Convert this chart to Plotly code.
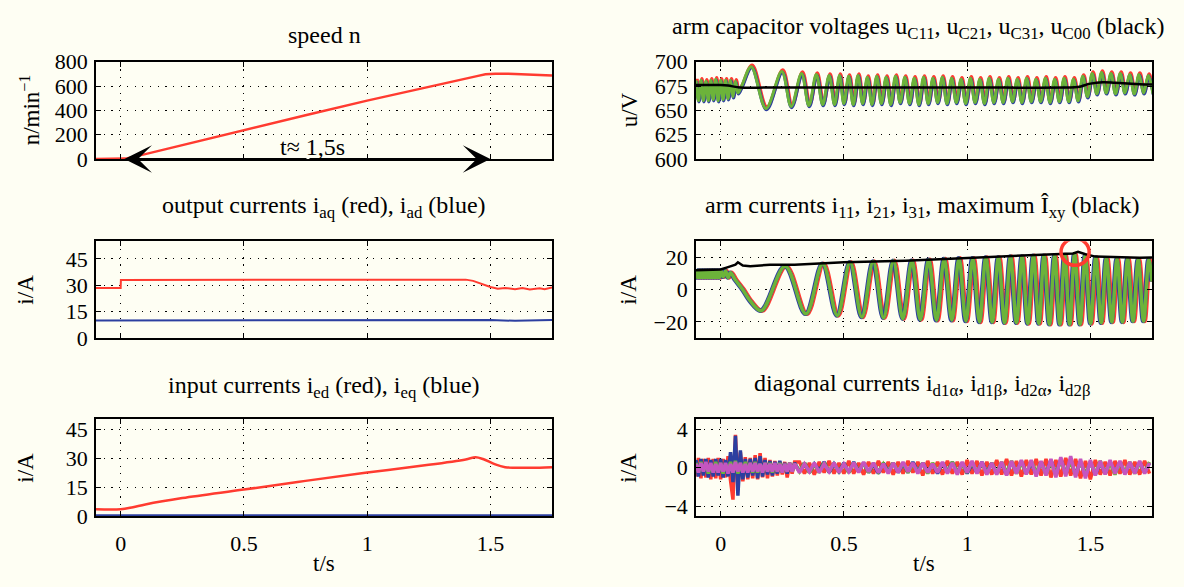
import numpy as np
import plotly.graph_objects as go

BG = "#fefef3"
RED = "#ff3b30"
BLUE = "#2c3fa0"
GREEN = "#6cb33a"
MAG = "#c455c0"
FONT = "Liberation Serif"

# ---------------- data ----------------
speed_t = [-0.1, 0.0, 0.02, 0.1, 0.25, 0.5, 0.75, 1.0, 1.25, 1.4, 1.45, 1.48, 1.52, 1.6, 1.7, 1.75]
speed_n = [0, 0, 3, 40, 115, 240, 360, 480, 590, 660, 684, 698, 702, 700, 693, 688]

iaq_t = [-0.1, 0.0, 0.001, 0.5, 1.0, 1.40, 1.43, 1.47, 1.50, 1.53, 1.56, 1.60, 1.63, 1.66, 1.70, 1.72, 1.75]
iaq = [28.5, 28.5, 33, 33, 33, 33.2, 32.5, 30.5, 29, 28, 28.5, 27.8, 28.4, 27.6, 28.3, 27.8, 28.8]
iad_t = [-0.1, 0.5, 1.0, 1.3, 1.4, 1.5, 1.6, 1.7, 1.75]
iad = [10, 10, 10.1, 10.3, 10, 10.2, 9.8, 10.3, 10.2]

ied_t = [-0.1, 0.0, 0.05, 0.1, 0.25, 0.5, 0.75, 1.0, 1.25, 1.40, 1.44, 1.47, 1.52, 1.56, 1.6, 1.7, 1.75]
ied = [3.5, 3.5, 4.6, 6, 9.3, 13.7, 18.2, 22.5, 26.5, 29.3, 30.4, 29.5, 26.7, 25.3, 25, 25, 25.2]
ieq_t = [-0.1, 1.75]
ieq = [0.3, 0.3]

# arm capacitor voltages (extrema of u_C11 etc.) and u_C00
cap_t = [-0.1, -0.09, -0.08, -0.07, -0.06, -0.05, -0.04, -0.03, -0.02, -0.01, 0.0, 0.01, 0.02, 0.03, 0.04,
         0.05, 0.06, 0.07, 0.085, 0.124, 0.184, 0.248, 0.286, 0.328, 0.358, 0.388, 0.414, 0.44, 0.462,
         0.482, 0.50, 0.519, 0.538, 0.557, 0.576, 0.595, 0.614, 0.633, 0.652, 0.671, 0.690, 0.709, 0.728,
         0.747, 0.766, 0.785, 0.804, 0.823, 0.842, 0.861, 0.880, 0.899, 0.918, 0.937, 0.956, 0.975, 0.994,
         1.013, 1.032, 1.051, 1.070, 1.089, 1.108, 1.127, 1.146, 1.165, 1.184, 1.203, 1.222, 1.241, 1.260,
         1.279, 1.298, 1.317, 1.336, 1.355, 1.374, 1.393, 1.412, 1.431, 1.450, 1.469, 1.488, 1.507, 1.526,
         1.545, 1.564, 1.583, 1.602, 1.621, 1.640, 1.659, 1.678, 1.697, 1.716, 1.735, 1.754]
cap_u = [681, 660, 681, 660, 680, 660, 681, 661, 682, 660, 681, 661, 681, 662, 681,
         664, 680, 668, 675, 695, 652, 690, 654, 688, 655, 687, 656, 686, 656,
         686, 657, 685, 656, 686, 657, 684, 656, 685, 657, 684, 656, 685, 658,
         684, 657, 683, 656, 684, 657, 683, 658, 684, 657, 683, 658, 682, 657,
         683, 658, 682, 657, 683, 658, 682, 658, 683, 659, 682, 658, 683, 659,
         682, 659, 683, 658, 682, 659, 683, 659, 682, 660, 685, 664, 688, 667,
         689, 668, 688, 667, 688, 668, 687, 667, 687, 668, 686, 667]
uc00_t = [-0.1, 0.0, 0.03, 0.08, 0.2, 0.5, 1.0, 1.4, 1.45, 1.5, 1.55, 1.6, 1.7, 1.75]
uc00 = [676, 676, 675.5, 673.5, 673.5, 673.5, 673.5, 673.5, 674, 677.5, 679, 678.5, 677, 676.5]
phase_lag = {"red": 0.004, "blue": 0.002}

# arm currents (extrema) and maximum
arm_t = [-0.1, -0.095, -0.09, -0.085, -0.08, -0.075, -0.07, -0.065, -0.06, -0.055, -0.05, -0.045, -0.04,
         -0.035, -0.03, -0.025, -0.02, -0.015, -0.01, -0.005, 0.0, 0.01, 0.02, 0.03, 0.04, 0.06, 0.09, 0.12,
         0.165, 0.262, 0.346, 0.414, 0.473, 0.525, 0.573, 0.619, 0.661, 0.701, 0.739, 0.776, 0.810, 0.844,
         0.876, 0.907, 0.938, 0.967, 0.995, 1.023, 1.050, 1.076, 1.102, 1.127, 1.152, 1.176, 1.200, 1.223,
         1.246, 1.269, 1.291, 1.312, 1.334, 1.355, 1.376, 1.396, 1.416, 1.436, 1.458, 1.479, 1.501, 1.522,
         1.544, 1.565, 1.587, 1.608, 1.630, 1.651, 1.673, 1.694, 1.716, 1.737, 1.75]
arm_i = [12, 7.5, 12, 7.5, 12, 7.5, 12, 7.5, 12, 7.5, 12, 7.5, 12,
         7.5, 12, 7.5, 12, 7.5, 12, 7.5, 12, 8, 11.5, 7.5, 10.5, 6, 0, -7,
         -13, 14.5, -15, 16, -16, 17, -17, 17.5, -17.5, 18, -18, 18, -18.5, 18.5,
         -19, 19, -19, 19.5, -19.5, 19.5, -20, 20, -20, 20, -20.5, 20.5, -20.5, 20.5,
         -21, 21, -21, 21, -21.5, 21, -21.5, 21.5, -21.5, 22, -21.5, 21, -21, 20,
         -20.5, 19.5, -20, 19, -20, 19, -19.5, 18.5, -19.5, 18.5, 5]
imax_t = [-0.1, 0.0, 0.03, 0.06, 0.07, 0.09, 0.12, 0.2, 0.3, 0.5, 0.75, 1.0, 1.2, 1.35, 1.43, 1.45, 1.48,
          1.52, 1.6, 1.7, 1.75]
imax = [12, 12.5, 14, 15.5, 17, 15, 14.5, 15.5, 15.5, 17, 18, 19.5, 21, 21.8, 22.5, 23.5, 22, 20.5, 20,
        19.8, 20]

# diagonal currents
diag_t = np.round(np.concatenate([np.arange(-0.1, 0.305, 0.01), np.arange(0.32, 1.745, 0.02)]), 3)
d_blue = [0.8, -0.9, 0.9, -0.8, 0.9, -1.0, 0.8, -0.9, 0.9, -0.8, 0.9, -1.0, 0.8, -0.9, 1.6, -1.5, 3.3,
          -2.9, 1.8, -1.2, 0.9, -1.0, 0.9, -0.8, 1.0, -1.1, 1.2, -0.9, 0.8, -0.7, 0.7, -0.8, 0.6, -0.6, 0.7,
          -0.5, 0.5, -0.6, 0.5, -0.4, 0.5,
          -0.4, 0.5, -0.5, 0.4, -0.3, 0.6, -0.5, 0.4, -0.4, 0.5,
          -0.5, 0.6, -0.4, 0.5, -0.5, 0.4, -0.6, 0.5, -0.4, 0.5,
          -0.5, 0.4, -0.5, 0.6, -0.4, 0.5, -0.5, 0.4, -0.6, 0.5,
          -0.4, 0.6, -0.5, 0.5, -0.6, 0.4, -0.5, 0.6, -0.5, 0.5,
          -0.6, 0.5, -0.7, 0.6, -0.5, 0.7, -0.6, 0.5, -0.7, 0.6,
          -0.6, 0.8, -0.7, 0.9, -0.6, 0.8, -0.7, 0.6, -0.8, 0.6,
          -0.7, 0.5, -0.6, 0.6, -0.5, 0.6, -0.6, 0.5, -0.5, 0.6,
          -0.5, 0.5]
d_red = [-0.9, 1.0, -1.1, 0.9, -1.0, 1.0, -1.2, 0.9, -1.1, 1.0, -1.2, 0.9, -1.0, 1.2, -1.3, -3.3, 3.4,
         -2.0, 1.6, -1.4, 1.1, -1.2, 1.0, -1.1, 1.3, -1.2, 1.5, -1.0, 1.0, -1.1, 0.8, -0.9, 0.7, -0.8, 0.6,
         -0.7, 0.6, -1.0, 0.5, -0.6, 0.6,
         0.6, -0.6, 0.5, -0.7, 0.6, -0.5, 0.7, -0.6, 0.5, -0.6,
         0.7, -0.6, 0.5, -0.7, 0.6, -0.6, 0.7, -0.5, 0.6, -0.7,
         0.6, -0.6, 0.7, -0.5, 0.6, -0.8, 0.7, -0.6, 0.6, -0.7,
         0.7, -0.6, 0.6, -0.7, 0.8, -0.6, 0.7, -0.8, 0.6, -0.7,
         0.8, -0.7, 0.9, -0.8, 0.7, -0.9, 0.8, -0.7, 0.9, -0.8,
         0.9, -1.0, 0.8, -0.9, 1.0, -0.8, 0.9, -1.1, 0.7, -1.2,
         0.8, -0.7, 0.6, -0.8, 0.7, -0.6, 0.8, -0.7, 0.6, -0.7,
         0.7, -0.6]
d_green = [0.5, -0.5, 0.6, -0.4, 0.5, -0.6, 0.4, -0.5, 0.6, -0.5, 0.5, -0.6, 0.4, -0.5, 0.6, -0.5, 0.7,
           -0.6, 0.5, -0.5, 0.6, -0.4, 0.5, -0.5, 0.6, -0.5, 0.4, -0.5, 0.5, -0.4, 0.5, -0.5, 0.4, -0.4,
           0.5, -0.5, 0.4, -0.4, 0.5, -0.4, 0.4,
           -0.4, 0.5, -0.5, 0.4, -0.5, 0.5, -0.4, 0.5, -0.5, 0.4,
           -0.5, 0.5, -0.4, 0.5, -0.5, 0.5, -0.4, 0.4, -0.5, 0.5,
           -0.4, 0.5, -0.5, 0.4, -0.5, 0.5, -0.6, 0.5, -0.4, 0.5,
           -0.5, 0.6, -0.5, 0.4, -0.5, 0.6, -0.5, 0.5, -0.6, 0.5,
           -0.6, 0.6, -0.5, 0.7, -0.6, 0.5, -0.6, 0.7, -0.5, 0.6,
           -0.7, 0.6, -0.7, 0.8, -0.6, 0.7, -0.8, 0.6, -0.7, 0.6,
           -0.6, 0.7, -0.6, 0.5, -0.7, 0.6, -0.5, 0.6, -0.6, 0.5,
           -0.5, 0.6]
d_mag = [0.4, -0.5, 0.5, -0.4, 0.6, -0.4, 0.5, -0.5, 0.4, -0.5, 0.5, -0.4, 0.5, -0.6, 0.4, -0.5, 0.6,
         -0.4, 0.5, -0.5, 0.4, -0.5, 0.5, -0.4, 0.5, -0.4, 0.4, -0.5, 0.5, -0.4, 0.4, -0.4, 0.5, -0.4,
         0.4, -0.5, 0.4, -0.4, 0.5, -0.4, 0.4,
         -0.5, 0.4, -0.4, 0.5, -0.5, 0.4, -0.4, 0.5, -0.5, 0.4,
         -0.4, 0.5, -0.5, 0.6, -0.4, 0.5, -0.5, 0.4, -0.6, 0.5,
         -0.5, 0.6, -0.4, 0.5, -0.6, 0.5, -0.5, 0.4, -0.5, 0.6,
         -0.6, 0.5, -0.7, 0.6, -0.5, 0.7, -0.6, 0.6, -0.7, 0.5,
         -0.7, 0.6, -0.8, 0.7, -0.6, 0.8, -0.7, 0.8, -0.9, 0.7,
         -0.8, 0.9, -1.0, 1.1, -0.9, 1.2, -1.0, 0.9, -1.1, 0.8,
         -0.8, 0.7, -0.7, 0.8, -0.6, 0.7, -0.7, 0.6, -0.6, 0.7,
         -0.6, 0.5]

x_ticks = [0, 0.5, 1, 1.5]
x_ticklabels = ["0", "0.5", "1", "1.5"]

# ---------------- figure ----------------
W, H = 1184, 587
XL = (96 / W, 552 / W)
XR = (696 / W, 1152 / W)
ROWS = [(1 - 153.5 / H, 1 - 52 / H), (1 - 340.5 / H, 1 - 239.5 / H), (1 - 526.5 / H, 1 - 425.5 / H)]

TICK_SIZE = 22
TITLE_SIZE = 24
LABEL_SIZE = 23

fig = go.Figure()


def add(x, y, color, width, n, shape="linear"):
    fig.add_trace(go.Scatter(x=list(x), y=list(y), mode="lines",
                             line=dict(color=color, width=width, shape=shape),
                             xaxis="x" + ("" if n == 1 else str(n)),
                             yaxis="y" + ("" if n == 1 else str(n)),
                             hoverinfo="skip", showlegend=False))


# panel 1: speed
add(speed_t, speed_n, RED, 2.5, 1)
# panel 2: capacitor voltages
add(np.array(cap_t) + phase_lag["red"], np.array(cap_u) + 1.5, RED, 3.5, 2, "spline")
add(np.array(cap_t) + phase_lag["blue"], np.array(cap_u) - 1.0, BLUE, 3.5, 2, "spline")
add(cap_t, cap_u, GREEN, 3.0, 2, "spline")
add(uc00_t, uc00, "black", 2.5, 2, "spline")
# panel 3: output currents
add(iaq_t, iaq, RED, 2, 3)
add(iad_t, iad, BLUE, 2, 3)
# panel 4: arm currents
add(np.array(arm_t) + phase_lag["red"], arm_i, RED, 4.5, 4, "spline")
add(np.array(arm_t) - phase_lag["blue"], arm_i, BLUE, 4.5, 4, "spline")
add(arm_t, arm_i, GREEN, 3.5, 4, "spline")
add(imax_t, imax, "black", 2.5, 4)
# panel 5: input currents
add(ied_t, ied, RED, 2.5, 5, "spline")
add(ieq_t, ieq, BLUE, 2.5, 5)
# panel 6: diagonal currents
add(diag_t, d_red, RED, 3.5, 6)
add(diag_t, d_blue, BLUE, 3.5, 6)
add(diag_t, d_green, GREEN, 3.5, 6)
add(diag_t, d_mag, MAG, 3.5, 6)

axis_common = dict(showline=True, linecolor="black", linewidth=1.6, mirror="allticks",
                   ticks="inside", ticklen=5, tickwidth=1, tickcolor="black",
                   showgrid=True, gridcolor="black", gridwidth=1, griddash="1.2px,6.5px",
                   zeroline=False, tickfont=dict(family=FONT, size=TICK_SIZE, color="black"))

panels = [
    # n, xdom, row, yrange, yticks
    (1, XL, 0, [0, 800], [0, 200, 400, 600, 800]),
    (2, XR, 0, [600, 700], [600, 625, 650, 675, 700]),
    (3, XL, 1, [0, 55], [0, 15, 30, 45]),
    (4, XR, 1, [-30, 30], [-20, 0, 20]),
    (5, XL, 2, [0, 50], [0, 15, 30, 45]),
    (6, XR, 2, [-5, 5], [-4, 0, 4]),
]
layout = {}
for n, xd, r, yr, yt in panels:
    s = "" if n == 1 else str(n)
    layout["xaxis" + s] = dict(axis_common, domain=list(xd), range=[-0.1, 1.75], anchor="y" + s,
                               tickvals=x_ticks, ticktext=x_ticklabels, showticklabels=(r == 2),
                               ticklabelstandoff=7)
    layout["yaxis" + s] = dict(axis_common, domain=list(ROWS[r]), range=yr, anchor="x" + s,
                               tickvals=yt, ticklabelstandoff=2)

fig.update_layout(**layout)

titles = [
    (324, 0, 12, "speed n"),
    (918, 0, 17, "arm capacitor voltages u<sub>C11</sub>, u<sub>C21</sub>, u<sub>C31</sub>, u<sub>C00</sub> (black)"),
    (324, 1, 17, "output currents i<sub>aq</sub> (red), i<sub>ad</sub> (blue)"),
    (922, 1, 17, "arm currents i<sub>11</sub>, i<sub>21</sub>, i<sub>31</sub>, maximum Î<sub>xy</sub> (black)"),
    (324, 2, 15, "input currents i<sub>ed</sub> (red), i<sub>eq</sub> (blue)"),
    (922, 2, 17, "diagonal currents i<sub>d1α</sub>, i<sub>d1β</sub>, i<sub>d2α</sub>, i<sub>d2β</sub>"),
]
ann = []
for xc, r, shift, txt in titles:
    ann.append(dict(text=txt, xref="paper", yref="paper", x=xc / W, y=ROWS[r][1],
                    xanchor="center", yanchor="bottom", yshift=shift, showarrow=False,
                    font=dict(family=FONT, size=TITLE_SIZE, color="black")))

ylabels = [(30, 0, "n/min<sup>−1</sup>"), (26, 1, "i/A"), (26, 2, "i/A"),
           (629, 0, "u/V"), (629, 1, "i/A"), (629, 2, "i/A")]
for xp, r, txt in ylabels:
    ann.append(dict(text=txt, xref="paper", yref="paper", x=xp / W, y=sum(ROWS[r]) / 2,
                    xanchor="center", yanchor="middle", textangle=-90, showarrow=False,
                    font=dict(family=FONT, size=LABEL_SIZE, color="black")))
for xd in (XL, XR):
    ann.append(dict(text="t/s", xref="paper", yref="paper", x=(xd[0] + xd[1]) / 2, y=1 - 576 / H,
                    xanchor="center", yanchor="middle", showarrow=False,
                    font=dict(family=FONT, size=LABEL_SIZE, color="black")))

# double arrow in speed panel
for tip in (0.015, 1.5):
    ann.append(dict(x=tip, y=0, ax=0.76, ay=0, xref="x", yref="y", axref="x", ayref="y",
                    text="", showarrow=True, arrowhead=3, arrowsize=2.3, arrowwidth=2,
                    arrowcolor="black"))
ann.append(dict(x=0.78, y=100, xref="x", yref="y", text="t≈ 1,5s", showarrow=False,
                font=dict(family=FONT, size=24, color="black")))

fig.update_layout(
    annotations=ann,
    shapes=[dict(type="circle", xref="x4", yref="y4", x0=1.438 - 0.057, x1=1.438 + 0.057,
                 y0=23.4 - 8.3, y1=23.4 + 8.3, line=dict(color=RED, width=3.5))],
    width=W, height=H, margin=dict(l=0, r=0, t=0, b=0),
    paper_bgcolor=BG, plot_bgcolor=BG, showlegend=False,
)

fig.write_html("out.html", config={"displayModeBar": False},
               post_script="document.body.style.margin='0px';document.body.style.background='#fefef3';")
